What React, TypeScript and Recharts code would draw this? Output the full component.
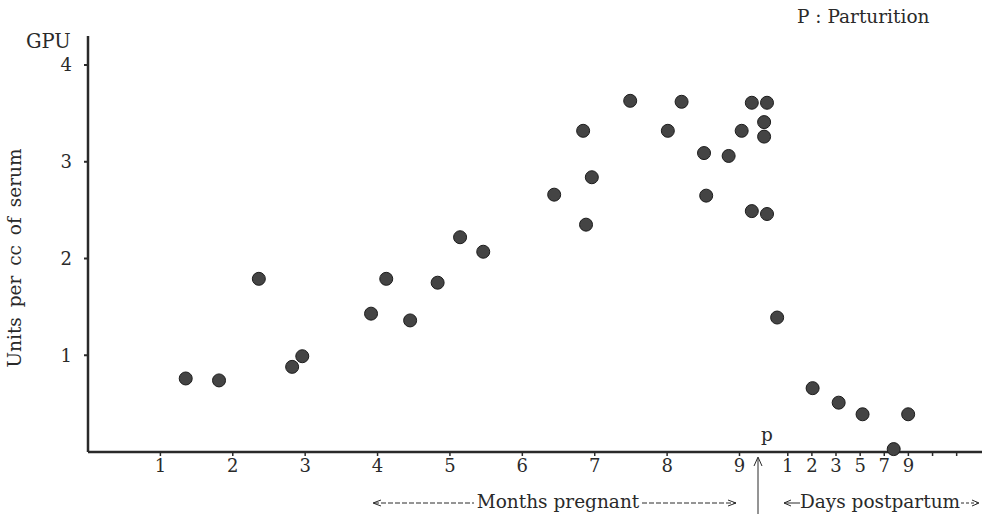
import { Customized, Scatter, ScatterChart, XAxis, YAxis } from "recharts";

// x position on the shared axis (months; postpartum days squeezed after 9)
const POSITION = [
  1.35, 1.81, 2.36, 2.82, 2.96, 3.91, 4.12, 4.45, 4.83, 5.14, 5.46, 6.44,
  6.84, 6.88, 6.96, 7.49, 8.01, 8.2, 8.51, 8.54, 8.85, 9.03, 9.17, 9.17,
  9.38, 9.34, 9.34, 9.38, 9.52, 10.01, 10.37, 10.7, 11.13, 11.33,
];
// GPU units per cc of serum
const UNITS = [
  0.76, 0.74, 1.79, 0.88, 0.99, 1.43, 1.79, 1.36, 1.75, 2.22, 2.07, 2.66,
  3.32, 2.35, 2.84, 3.63, 3.32, 3.62, 3.09, 2.65, 3.06, 3.32, 3.61, 2.49,
  3.61, 3.41, 3.26, 2.46, 1.39, 0.66, 0.51, 0.39, 0.03, 0.39,
];

const X_TICKS = [1, 2, 3, 4, 5, 6, 7, 8, 9, 9.667, 10, 10.333, 10.667, 11, 11.333, 11.667, 12];
const X_TICK_LABELS = ["1", "2", "3", "4", "5", "6", "7", "8", "9", "1", "2", "3", "5", "7", "9", "", ""];
const Y_TICKS = [1, 2, 3, 4];

const POINTS = POSITION.map((x, i) => ({ x, y: UNITS[i] }));

const FONT = "'DejaVu Serif', 'Liberation Serif', serif";
const INK = "#2a2a2a";
const TICK = { fontFamily: FONT, fontSize: 18, fill: INK };

function Dot(p: any) {
  return <circle cx={p.cx} cy={p.cy} r={6.5} fill="#444" stroke="#1c1c1c" strokeWidth={1} />;
}

function Notes() {
  const txt = { fontFamily: FONT, fontSize: 18.5, fill: INK };
  return (
    <g>
      <text x={26} y={48} {...txt} fontSize={19.5}>GPU</text>
      <text
        x={21}
        y={258}
        {...txt}
        wordSpacing={4}
        textAnchor="middle"
        transform="rotate(-90 21 258)"
      >
        Units per cc of serum
      </text>
      <text x={797} y={23} {...txt}>P : Parturition</text>
      <text x={761} y={441} {...txt}>p</text>

      {/* parturition arrow */}
      <line x1={758} y1={514} x2={758} y2={458} stroke={INK} strokeWidth={1} />
      <polyline points="754,466 758,457 762,466" fill="none" stroke={INK} strokeWidth={1} />

      {/* months pregnant */}
      <line x1={374} y1={503} x2={474} y2={503} stroke={INK} strokeWidth={1} strokeDasharray="5 2" />
      <polyline points="381,500 373,503 381,506" fill="none" stroke={INK} strokeWidth={1} />
      <text x={558} y={508} {...txt} textAnchor="middle">Months pregnant</text>
      <line x1={642} y1={503} x2={736} y2={503} stroke={INK} strokeWidth={1} strokeDasharray="5 2" />
      <polyline points="728,500 736,503 728,506" fill="none" stroke={INK} strokeWidth={1} />

      {/* days postpartum */}
      <line x1={784} y1={503} x2={800} y2={503} stroke={INK} strokeWidth={1} />
      <polyline points="791,500 784,503 791,506" fill="none" stroke={INK} strokeWidth={1} />
      <text x={880} y={508} {...txt} textAnchor="middle">Days postpartum</text>
      <line x1={961} y1={503} x2={978} y2={503} stroke={INK} strokeWidth={1} strokeDasharray="3 2" />
      <polyline points="972,500 979,503 972,506" fill="none" stroke={INK} strokeWidth={1} />
    </g>
  );
}

export default function App() {
  return (
    <div style={{ position: "absolute", left: 0, top: 0, width: 982, height: 514, overflow: "hidden", background: "#fff" }}>
      <ScatterChart width={982} height={514} margin={{ top: 36, right: 0, bottom: 0, left: 0 }}>
        <XAxis
          type="number"
          dataKey="x"
          domain={[0, 12.35]}
          ticks={X_TICKS}
          tickFormatter={(v: number) => X_TICK_LABELS[X_TICKS.indexOf(v)] ?? ""}
          interval={0}
          height={62}
          tickSize={4}
          tickMargin={3}
          tick={TICK}
          stroke={INK}
          axisLine={{ stroke: INK, strokeWidth: 2.5 }}
          tickLine={{ stroke: INK, strokeWidth: 1.5 }}
        />
        <YAxis
          type="number"
          dataKey="y"
          domain={[0, 4.3]}
          ticks={Y_TICKS}
          interval={0}
          width={88}
          tickSize={4}
          tickMargin={12}
          tick={TICK}
          stroke={INK}
          axisLine={{ stroke: INK, strokeWidth: 2.5 }}
          tickLine={{ stroke: INK, strokeWidth: 2 }}
        />
        <Scatter data={POINTS} shape={Dot} isAnimationActive={false} />
        <Customized component={<Notes />} />
      </ScatterChart>
    </div>
  );
}
